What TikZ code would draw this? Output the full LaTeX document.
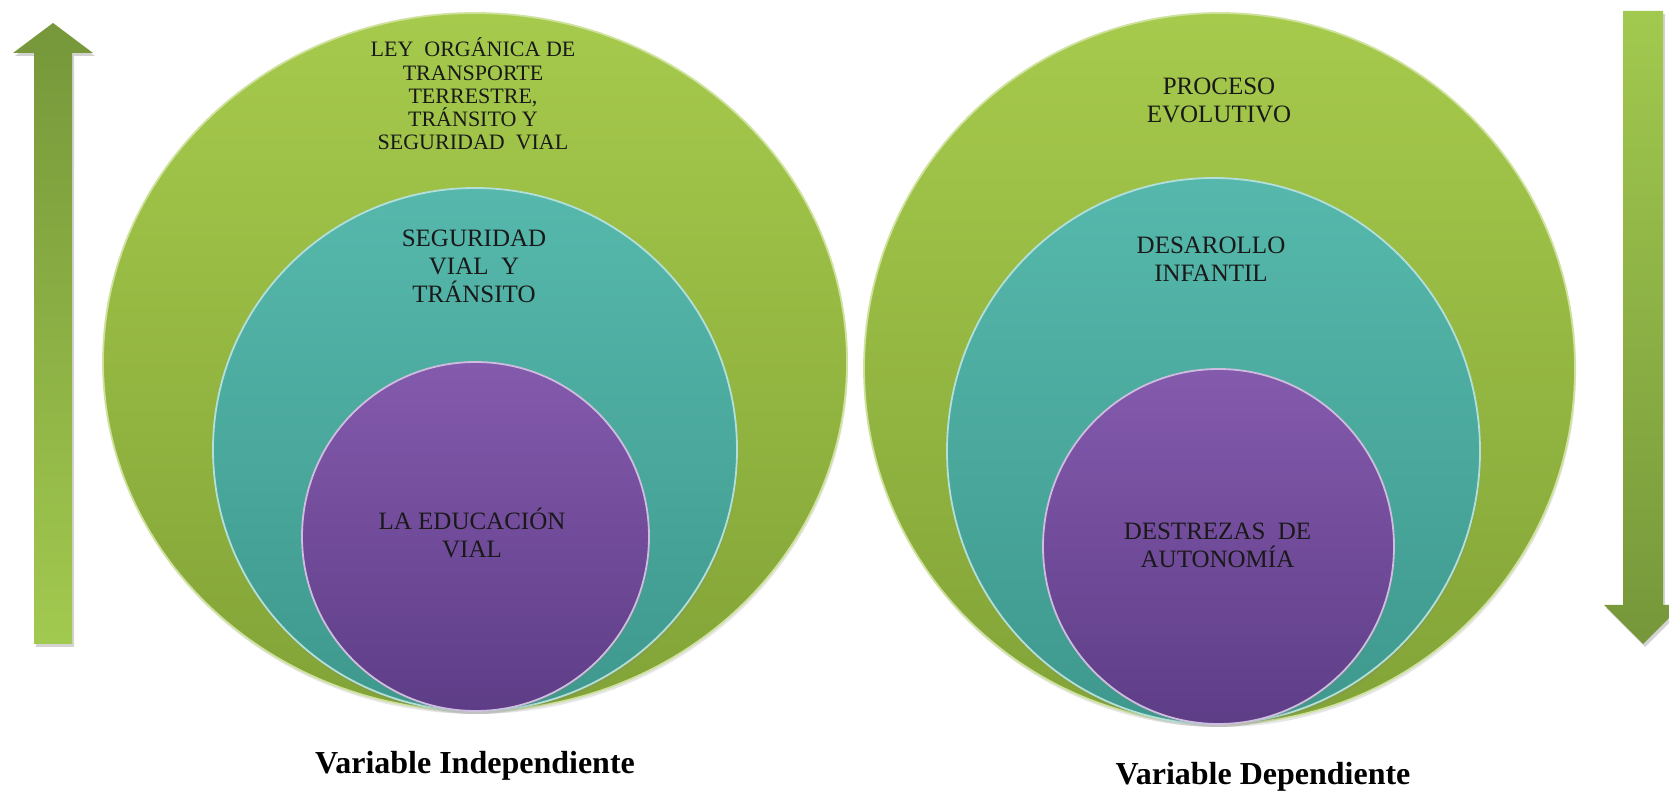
\documentclass[tikz,border=0pt]{standalone}
\usepackage{fontspec}
\setmainfont{Liberation Serif}
\usetikzlibrary{shapes.geometric,shadows}

\definecolor{limeTop}{HTML}{A6CA4C}
\definecolor{limeBot}{HTML}{82A337}
\definecolor{tealTop}{HTML}{56B8AC}
\definecolor{tealBot}{HTML}{3E988D}
\definecolor{violTop}{HTML}{845AAD}
\definecolor{violBot}{HTML}{5E3D87}
\definecolor{arrDark}{HTML}{76973A}
\definecolor{arrLight}{HTML}{A2C94F}

\tikzset{
  ring/.style={ellipse,inner sep=0pt,line width=1.8pt,
    drop shadow={opacity=0.2,shadow xshift=1pt,shadow yshift=-3pt}},
  limering/.style={ring,top color=limeTop,bottom color=limeBot,draw=limeTop!55!white},
  tealring/.style={ring,top color=tealTop,bottom color=tealBot,draw=tealTop!45!white},
  violring/.style={ring,top color=violTop,bottom color=violBot,draw=violTop!40!white},
  caption/.style={font=\fontsize{25}{28}\selectfont,align=center,text=black!90,
    anchor=base,inner sep=0pt},
  varlabel/.style={font=\fontsize{32}{36}\selectfont\bfseries,anchor=base,inner sep=0pt},
  bigarrow/.style={drop shadow={opacity=0.35,shadow xshift=2pt,shadow yshift=-3pt}}
}

\begin{document}
\begin{tikzpicture}[x=1pt,y=1pt]
  \useasboundingbox (0,0) rectangle (1669,792);

  % arrows
  \shade[bigarrow,top color=arrDark,bottom color=arrLight]
    (34,148) -- (34,739) -- (13,739) -- (53,769) -- (93,739) -- (72,739) -- (72,148) -- cycle;
  \shade[bigarrow,top color=arrLight,bottom color=arrDark]
    (1623,781) -- (1623,187) -- (1604,187) -- (1643,148) -- (1682,187) -- (1663,187) -- (1663,781) -- cycle;

  % independent variable
  \node[limering,minimum width=744pt,minimum height=698pt] (ley) at (475,430) {};
  \node[tealring,minimum width=524pt,minimum height=523pt] (seg) at (475,342.5) {};
  \node[violring,minimum width=347pt,minimum height=349pt] (edu) at (475.5,255.5) {};

  \node[caption,font=\fontsize{22}{23.3}\selectfont] (leyt) at (473,642)
    {LEY\ \ ORGÁNICA DE\\TRANSPORTE\\TERRESTRE,\\TRÁNSITO Y\\SEGURIDAD\ \ VIAL};
  \node[caption] (segt) at (474,489) {SEGURIDAD\\VIAL\ \ Y\\TRÁNSITO};
  \node[caption] (edut) at (472,234) {LA EDUCACIÓN\\VIAL};

  % dependent variable
  \node[limering,minimum width=711pt,minimum height=711pt] (pro) at (1219.5,423.5) {};
  \node[tealring,minimum width=533pt,minimum height=546pt] (des) at (1213.5,341) {};
  \node[violring,minimum width=351pt,minimum height=355pt] (aut) at (1218.5,245.5) {};

  \node[caption] (prot) at (1219,669) {PROCESO\\EVOLUTIVO};
  \node[caption] (dest) at (1211,510) {DESAROLLO\\INFANTIL};
  \node[caption] (autt) at (1217.5,224) {DESTREZAS\ \ DE\\AUTONOMÍA};

  \node[varlabel] (vi) at (475,19) {Variable Independiente};
  \node[varlabel] (vd) at (1263,8) {Variable Dependiente};
\end{tikzpicture}
\end{document}
